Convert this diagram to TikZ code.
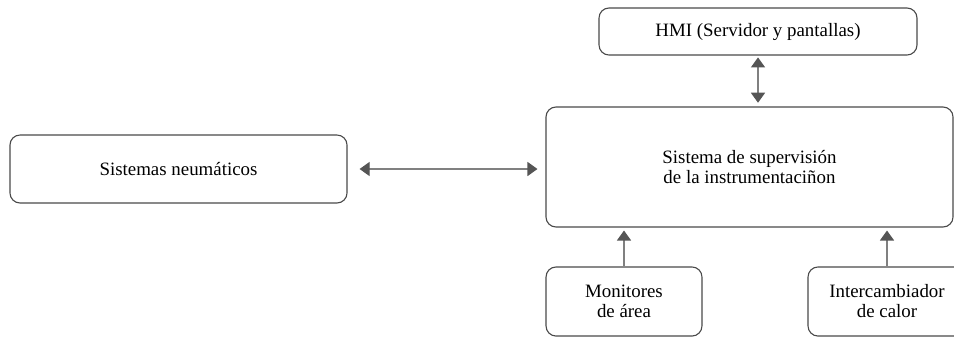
\documentclass[tikz,border=0pt]{standalone}
\usepackage{fontspec}
\setmainfont{Liberation Serif}
\usepackage{tikz}
\usetikzlibrary{positioning, arrows.meta}
\definecolor{bordecol}{HTML}{4A4A4A}
\definecolor{flechacol}{HTML}{808080}
\definecolor{puntacol}{HTML}{555555}
\tikzset{
	>={Triangle[length=5.4pt, width=7.6pt, color=puntacol]},
	% bloque generico (subsistema)
	bloque/.style={draw=bordecol, line width=0.6pt, rounded corners=5.4pt, align=center,
	               inner sep=0pt, font=\fontsize{10.2}{10.8}\selectfont},
	% flecha en un solo sentido
	flecha/.style={->, line width=0.6pt, flechacol},
	% flecha en ambos sentidos
	doble/.style={<->, line width=0.6pt, flechacol},
}

\begin{document}
\begin{tikzpicture}[x=0.54pt, y=-0.54pt]
    \useasboundingbox (0,0) rectangle (954,338);

    % ---------------- bloques ----------------
    \node[bloque, minimum width=171.7pt, minimum height=25.4pt] (hmi) at (758,31.5) {HMI (Servidor y pantallas)};
    \node[bloque, minimum width=219.8pt, minimum height=64.8pt] (sup) at (749.5,167) {Sistema de supervisión\\de la instrumentaciñon};
    \node[bloque, minimum width=182pt, minimum height=36.7pt] (neum) at (178.5,169) {Sistemas neumáticos};
    \node[bloque, minimum width=84.2pt, minimum height=37.3pt] (moni) at (624,301.5) {Monitores\\de área};
    % bloque cortado por el borde derecho
    \node[bloque, minimum width=85.3pt, minimum height=37.3pt] (inter) at (887,301.5) {Intercambiador\\de calor};

    % ---------------- conexiones ----------------
    \draw[doble, shorten <=6.5pt, shorten >=4.3pt] (neum.east) -- (neum.east -| sup.west);
    \draw[doble, shorten <=1pt, shorten >=2pt] (hmi.south) -- (hmi.south |- sup.north);
    \draw[flecha, shorten >=1.6pt] (moni.north) -- (moni.north |- sup.south);
    \draw[flecha, shorten >=1.6pt] (inter.north) -- (inter.north |- sup.south);
\end{tikzpicture}
\end{document}
